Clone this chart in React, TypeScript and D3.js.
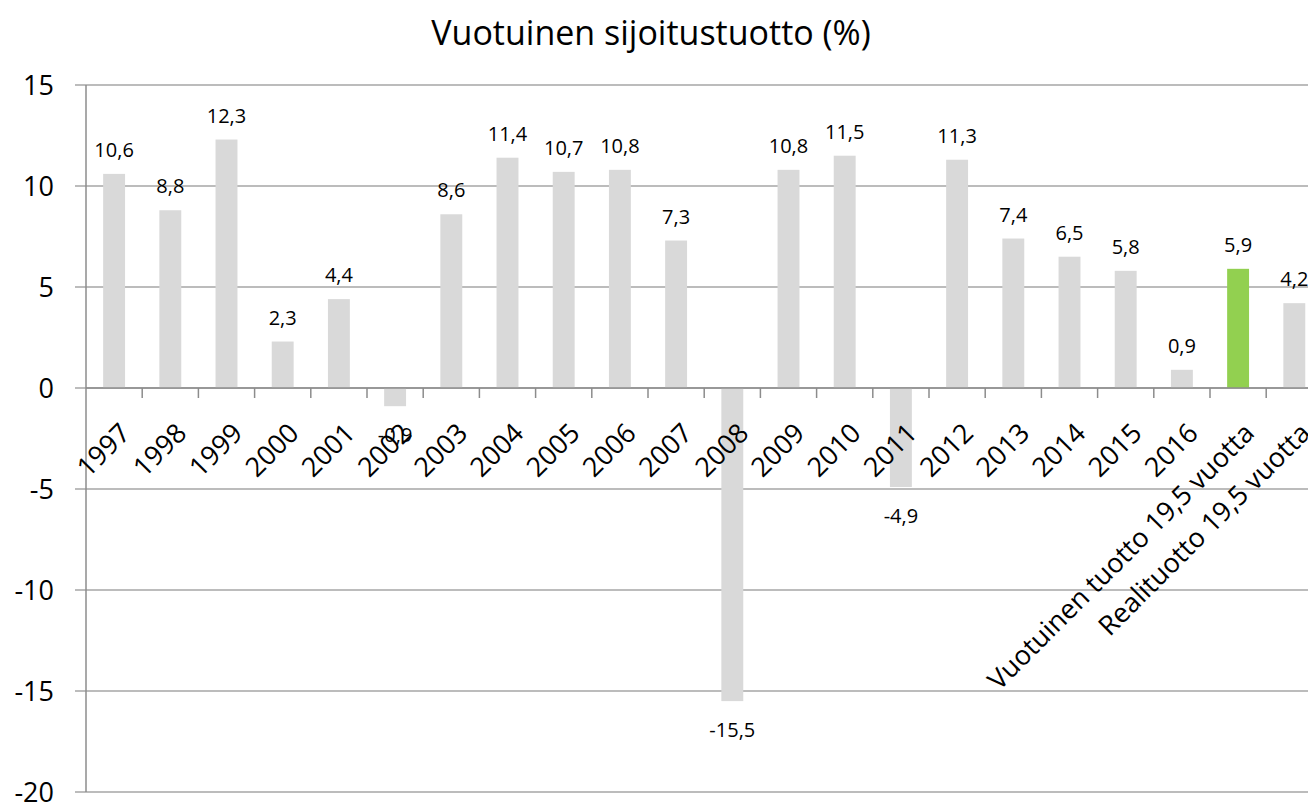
import React from 'react';
import * as d3 from 'd3';

const categories = [
  '1997', '1998', '1999', '2000', '2001', '2002', '2003', '2004', '2005', '2006', '2007',
  '2008', '2009', '2010', '2011', '2012', '2013', '2014', '2015', '2016',
  'Vuotuinen tuotto 19,5 vuotta', 'Realituotto 19,5 vuotta'
];
const values = [
  10.6, 8.8, 12.3, 2.3, 4.4, -0.9, 8.6, 11.4, 10.7, 10.8, 7.3,
  -15.5, 10.8, 11.5, -4.9, 11.3, 7.4, 6.5, 5.8, 0.9,
  5.9, 4.2
];
const highlighted = ['Vuotuinen tuotto 19,5 vuotta'];
const yTicks = [-20, -15, -10, -5, 0, 5, 10, 15];
const title = 'Vuotuinen sijoitustuotto (%)';

function App() {
  const width = 1308;
  const height = 805;
  const left = 86;
  const step = 56.2;
  const font = '"Open Sans", "Noto Sans", sans-serif';

  const handleChartInit = (element) => {
    if (!element) return;
    const svg = d3.select(element);
    svg.selectAll('*').remove();

    const x = d3.scaleBand()
      .domain(categories)
      .range([left, left + step * categories.length])
      .paddingInner(0.61)
      .paddingOuter(0.305);

    const y = d3.scaleLinear().domain([-20, 15]).range([792, 85]);
    const fmt = (v) => v.toFixed(1).replace('.', ',');

    svg.append('text')
      .attr('x', 651)
      .attr('y', 45)
      .attr('text-anchor', 'middle')
      .style('font-family', font)
      .style('font-size', '34px')
      .attr('fill', '#000')
      .text(title);

    // gridlines
    svg.append('g')
      .selectAll('line')
      .data(yTicks)
      .join('line')
      .attr('x1', 75)
      .attr('x2', width)
      .attr('y1', (d) => y(d))
      .attr('y2', (d) => y(d))
      .attr('stroke', '#a6a6a6')
      .attr('stroke-width', 1.5);

    // y labels
    svg.append('g')
      .selectAll('text')
      .data(yTicks)
      .join('text')
      .attr('x', 54)
      .attr('y', (d) => y(d))
      .attr('dy', '0.36em')
      .attr('text-anchor', 'end')
      .style('font-family', font)
      .style('font-size', '27px')
      .text((d) => d);

    // bars
    svg.append('g')
      .selectAll('rect')
      .data(categories)
      .join('rect')
      .attr('x', (d) => x(d))
      .attr('width', x.bandwidth())
      .attr('y', (d, i) => y(Math.max(0, values[i])))
      .attr('height', (d, i) => Math.abs(y(values[i]) - y(0)))
      .attr('fill', (d) => (highlighted.includes(d) ? '#92d050' : '#d9d9d9'));

    // y axis line
    svg.append('line')
      .attr('x1', left).attr('x2', left)
      .attr('y1', y(15)).attr('y2', y(-20))
      .attr('stroke', '#8c8c8c')
      .attr('stroke-width', 1.5);

    // zero axis + ticks
    svg.append('line')
      .attr('x1', left).attr('x2', width)
      .attr('y1', y(0)).attr('y2', y(0))
      .attr('stroke', '#8c8c8c')
      .attr('stroke-width', 1.5);

    svg.append('g')
      .selectAll('line')
      .data(categories)
      .join('line')
      .attr('x1', (d) => x(d) + x.bandwidth() / 2 + step / 2)
      .attr('x2', (d) => x(d) + x.bandwidth() / 2 + step / 2)
      .attr('y1', y(0))
      .attr('y2', y(0) + 10)
      .attr('stroke', '#8c8c8c')
      .attr('stroke-width', 1.5);

    // data labels
    svg.append('g')
      .selectAll('text')
      .data(categories)
      .join('text')
      .attr('x', (d) => x(d) + x.bandwidth() / 2)
      .attr('y', (d, i) => (values[i] >= 0 ? y(values[i]) - 17 : y(values[i]) + 36))
      .attr('text-anchor', 'middle')
      .style('font-family', font)
      .style('font-size', '20px')
      .text((d, i) => fmt(values[i]));

    // x labels
    svg.append('g')
      .selectAll('text')
      .data(categories)
      .join('text')
      .attr('transform', (d) => `translate(${x(d) + x.bandwidth() / 2 + 4}, 421) rotate(-45)`)
      .attr('dy', '0.72em')
      .attr('text-anchor', 'end')
      .style('font-family', font)
      .style('font-size', '27px')
      .text((d) => d);

    return svg.node();
  };

  return (
    <svg
      ref={handleChartInit}
      width={width}
      height={height}
      style={{ position: 'absolute', left: 0, top: 0, background: '#fff' }}
    />
  );
}

export default App;
